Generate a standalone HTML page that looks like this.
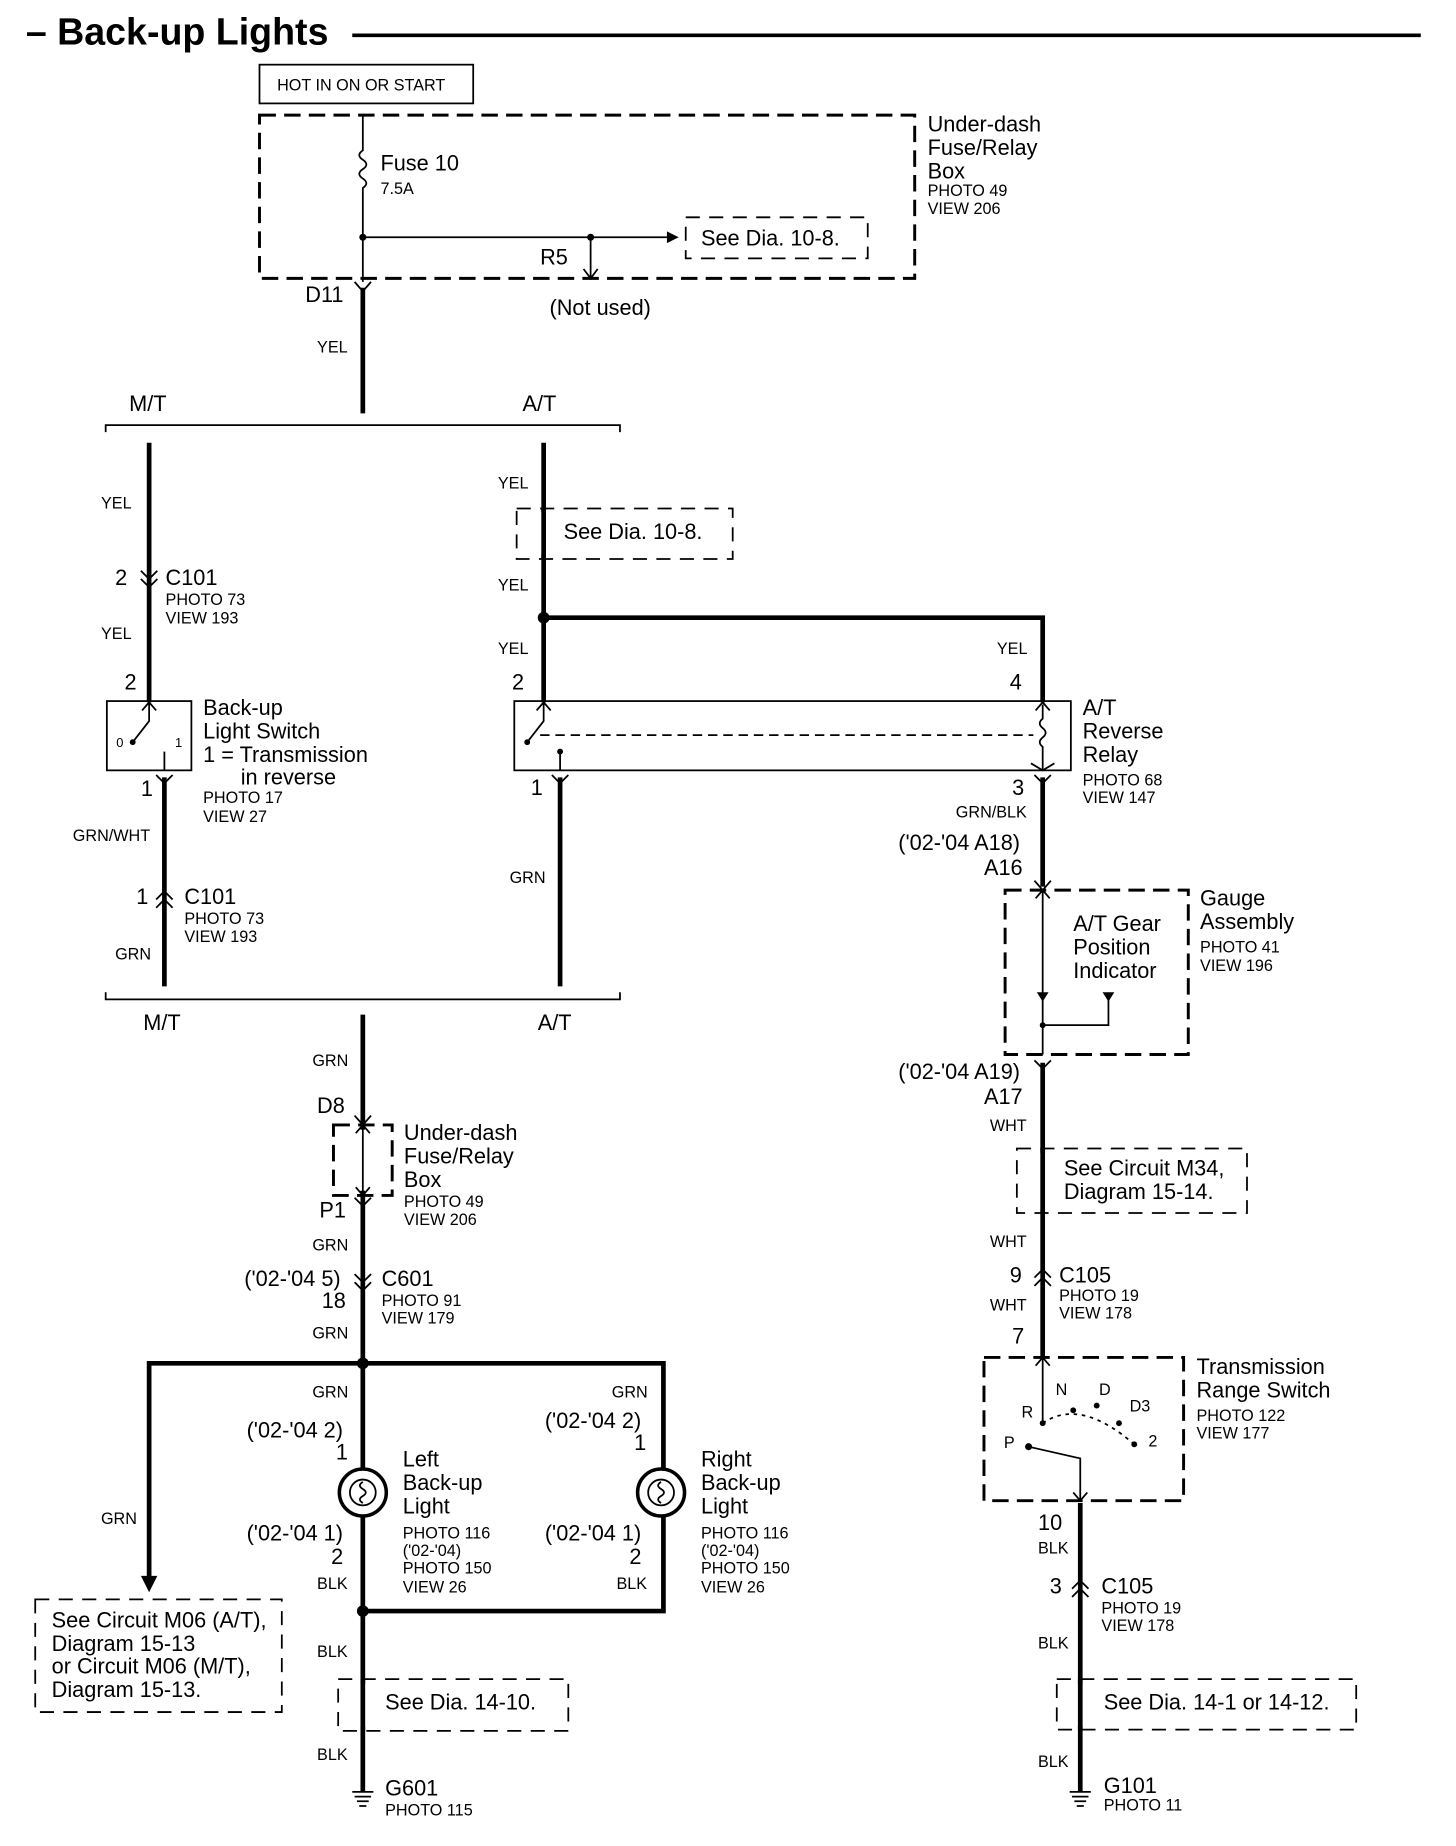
<!DOCTYPE html>
<html><head><meta charset="utf-8"><style>
html,body{margin:0;padding:0;background:#fff}
svg{display:block}
text{font-family:"Liberation Sans",sans-serif;fill:#000}
.l{font-size:18.5px}.s{font-size:13.8px}
.w{stroke:#000;stroke-width:4;fill:none}
.t{stroke:#000;stroke-width:1.5;fill:none}
.d{stroke:#000;stroke-width:2.5;fill:none;stroke-dasharray:14 7}
.dt{stroke:#000;stroke-width:1.5;fill:none;stroke-dasharray:12 8}
</style></head><body>
<svg width="1456" height="1846" viewBox="0 0 1240 1572" xmlns="http://www.w3.org/2000/svg">
<text x="22" y="38" style="font-size:32px;font-weight:bold">– Back-up Lights</text>
<line x1="300" y1="30" x2="1210" y2="30" stroke="#000" stroke-width="3"/>
<rect x="221" y="55" width="182" height="33" class="t" stroke-width="2"/>
<text x="236" y="77" class="s">HOT IN ON OR START</text>
<rect x="221" y="98" width="558" height="139" class="d"/>
<text x="790" y="112" class="l">Under-dash</text><text x="790" y="132" class="l">Fuse/Relay</text><text x="790" y="152" class="l">Box</text>
<text x="790" y="167" class="s">PHOTO 49</text><text x="790" y="182" class="s">VIEW 206</text>
<path d="M309 98 V128 q-6 4 0 8 q6 4 0 8 q-6 4 0 8 q6 4 0 8 V240" class="t"/>
<text x="324" y="145" class="l">Fuse 10</text><text x="324" y="165" class="s">7.5A</text>
<path d="M309 202 H568" class="t"/><path d="M568 197 L578 202 L568 207Z"/>
<circle cx="309" cy="202" r="3"/><circle cx="503" cy="202" r="3"/>
<path d="M503 202 V237 M497 229 L503 237 L509 229" class="t"/>
<text x="460" y="225" class="l">R5</text>
<path d="M584 185 H739 V220 H584Z" class="dt"/>
<text x="597" y="209" class="l">See Dia. 10-8.</text>
<text x="260" y="257" class="l">D11</text>
<path d="M302 240 L309 248 L316 240" class="t" stroke-width="2.5"/>
<line x1="309" y1="245" x2="309" y2="352" class="w"/>
<text x="270" y="300" class="s">YEL</text>
<text x="468" y="268" class="l">(Not used)</text>
<path d="M90 368 V362 H528 V368" class="t" stroke-width="2.5"/>
<text x="110" y="350" class="l">M/T</text><text x="445" y="350" class="l">A/T</text>
<line x1="127" y1="377" x2="127" y2="598" class="w"/>
<path d="M120 486 L127 493 L134 486 M120 493 L127 500 L134 493" class="t" stroke-width="2.5"/>
<text x="86" y="433" class="s">YEL</text>
<text x="98" y="498" class="l">2</text><text x="141" y="498" class="l">C101</text>
<text x="141" y="515" class="s">PHOTO 73</text><text x="141" y="531" class="s">VIEW 193</text>
<text x="86" y="544" class="s">YEL</text>
<text x="106" y="587" class="l">2</text>
<rect x="91" y="597" width="72" height="59" class="t" stroke-width="2.5"/>
<path d="M127 597 V614 L113 632 M140 640 V656 M121 605 L127 598 L133 605" class="t"/>
<circle cx="113" cy="632" r="2.5"/><text x="99" y="636" class="s" style="font-size:11px">0</text><text x="149" y="636" class="s" style="font-size:11px">1</text>
<text x="173" y="609" class="l">Back-up</text><text x="173" y="629" class="l">Light Switch</text>
<text x="173" y="649" class="l">1 = Transmission</text><text x="205" y="668" class="l">in reverse</text>
<text x="173" y="684" class="s">PHOTO 17</text><text x="173" y="700" class="s">VIEW 27</text>
<text x="120" y="678" class="l">1</text>
<path d="M133 660 L140 667 L147 660" class="t" stroke-width="2.5"/>
<line x1="140" y1="662" x2="140" y2="840" class="w"/>
<text x="62" y="716" class="s">GRN/WHT</text>
<path d="M133 766 L140 759 L147 766 M133 773 L140 766 L147 773" class="t" stroke-width="2.5"/>
<text x="116" y="770" class="l">1</text><text x="157" y="770" class="l">C101</text>
<text x="157" y="787" class="s">PHOTO 73</text><text x="157" y="802" class="s">VIEW 193</text>
<text x="98" y="817" class="s">GRN</text>
<line x1="463" y1="377" x2="463" y2="598" class="w"/>
<text x="424" y="416" class="s">YEL</text>
<path d="M440 433 H624 V476 H440Z" class="dt"/>
<rect x="452" y="436" width="22" height="36" fill="#fff"/>
<line x1="463" y1="433" x2="463" y2="476" class="w"/>
<text x="480" y="459" class="l">See Dia. 10-8.</text>
<text x="424" y="503" class="s">YEL</text>
<circle cx="463" cy="526" r="5"/>
<path d="M463 526 H888 V598" class="w"/>
<text x="424" y="557" class="s">YEL</text><text x="849" y="557" class="s">YEL</text>
<text x="436" y="587" class="l">2</text><text x="860" y="587" class="l">4</text>
<rect x="438" y="597" width="474" height="59" class="t" stroke-width="2.5"/>
<path d="M463 598 V614 L449 632 M477 640 V656 M457 605 L463 598 L469 605 M882 605 L888 598 L894 605 M888 600 V612 q-5 4 0 8 q5 4 0 8 q-5 4 0 8 V656 M878 650 L888 656 L898 650" class="t"/>
<circle cx="449" cy="632" r="2.5"/><circle cx="477" cy="640" r="2.5"/>
<line x1="460" y1="626" x2="880" y2="626" class="t" stroke-dasharray="8 5"/>
<text x="922" y="609" class="l">A/T</text><text x="922" y="629" class="l">Reverse</text><text x="922" y="649" class="l">Relay</text>
<text x="922" y="669" class="s">PHOTO 68</text><text x="922" y="684" class="s">VIEW 147</text>
<text x="452" y="677" class="l">1</text>
<path d="M470 660 L477 667 L484 660" class="t" stroke-width="2.5"/>
<line x1="477" y1="662" x2="477" y2="840" class="w"/>
<text x="434" y="752" class="s">GRN</text>
<text x="862" y="677" class="l">3</text>
<path d="M881 660 L888 667 L895 660" class="t" stroke-width="2.5"/>
<line x1="888" y1="662" x2="888" y2="755" class="w"/>
<text x="814" y="696" class="s">GRN/BLK</text>
<text x="765" y="724" class="l">('02-'04 A18)</text><text x="838" y="745" class="l">A16</text>
<path d="M881 750 L888 758 L895 750" class="t" stroke-width="2.5"/>
<rect x="856" y="758" width="156" height="140" class="d"/>
<path d="M888 758 V898 M888 873 H944 V850 M882 765 L888 758 L894 765" class="t"/>
<path d="M883 845 L888 853 L893 845Z M939 845 L944 853 L949 845Z"/><circle cx="888" cy="873" r="2.5"/>
<text x="914" y="793" class="l">A/T Gear</text><text x="914" y="813" class="l">Position</text><text x="914" y="833" class="l">Indicator</text>
<text x="1022" y="771" class="l">Gauge</text><text x="1022" y="791" class="l">Assembly</text>
<text x="1022" y="811" class="s">PHOTO 41</text><text x="1022" y="827" class="s">VIEW 196</text>
<path d="M881 903 L888 910 L895 903" class="t" stroke-width="2.5"/>
<line x1="888" y1="905" x2="888" y2="1156" class="w"/>
<text x="765" y="919" class="l">('02-'04 A19)</text><text x="838" y="940" class="l">A17</text>
<text x="843" y="963" class="s">WHT</text>
<path d="M866 978 H1062 V1033 H866Z" class="dt"/>
<rect x="878" y="982" width="20" height="48" fill="#fff"/>
<line x1="888" y1="978" x2="888" y2="1033" class="w"/>
<text x="906" y="1001" class="l">See Circuit M34,</text><text x="906" y="1021" class="l">Diagram 15-14.</text>
<text x="843" y="1062" class="s">WHT</text>
<path d="M881 1088 L888 1081 L895 1088 M881 1095 L888 1088 L895 1095" class="t" stroke-width="2.5"/>
<text x="860" y="1092" class="l">9</text><text x="902" y="1092" class="l">C105</text>
<text x="902" y="1108" class="s">PHOTO 19</text><text x="902" y="1123" class="s">VIEW 178</text>
<text x="843" y="1116" class="s">WHT</text>
<text x="862" y="1144" class="l">7</text>
<rect x="838" y="1156" width="170" height="122" class="d"/>
<path d="M888 1156 V1210 M882 1163 L888 1156 L894 1163 M876 1232 L920 1242 V1278 M914 1271 L920 1278 L926 1271" class="t"/>
<circle cx="876" cy="1232" r="3"/><circle cx="888" cy="1212" r="2.5"/><circle cx="914" cy="1201" r="2.5"/><circle cx="934" cy="1197" r="2.5"/><circle cx="953" cy="1212" r="2.5"/><circle cx="966" cy="1230" r="2.5"/>
<path d="M888 1212 Q920 1190 966 1230" class="t" stroke-dasharray="3 4"/>
<text x="870" y="1207" class="s">R</text><text x="899" y="1188" class="s">N</text><text x="936" y="1188" class="s">D</text><text x="962" y="1202" class="s">D3</text><text x="978" y="1232" class="s">2</text><text x="855" y="1233" class="s">P</text>
<text x="1019" y="1170" class="l">Transmission</text><text x="1019" y="1190" class="l">Range Switch</text>
<text x="1019" y="1210" class="s">PHOTO 122</text><text x="1019" y="1225" class="s">VIEW 177</text>
<line x1="920" y1="1280" x2="920" y2="1526" class="w"/>
<text x="884" y="1303" class="l">10</text><text x="884" y="1323" class="s">BLK</text>
<path d="M913 1353 L920 1346 L927 1353 M913 1360 L920 1353 L927 1360" class="t" stroke-width="2.5"/>
<text x="894" y="1357" class="l">3</text><text x="938" y="1357" class="l">C105</text>
<text x="938" y="1374" class="s">PHOTO 19</text><text x="938" y="1389" class="s">VIEW 178</text>
<text x="884" y="1404" class="s">BLK</text>
<path d="M900 1430 H1155 V1473 H900Z" class="dt"/>
<rect x="910" y="1434" width="20" height="36" fill="#fff"/>
<line x1="920" y1="1430" x2="920" y2="1473" class="w"/>
<text x="940" y="1456" class="l">See Dia. 14-1 or 14-12.</text>
<text x="884" y="1505" class="s">BLK</text>
<path d="M911 1526 H929 M913 1530 H927 M915 1534 H925 M917 1538 H923" class="t" stroke-width="2.5"/>
<text x="940" y="1527" class="l">G101</text><text x="940" y="1542" class="s">PHOTO 11</text>
<path d="M90 845 V851 H528 V845" class="t" stroke-width="2.5"/>
<text x="122" y="877" class="l">M/T</text><text x="458" y="877" class="l">A/T</text>
<line x1="309" y1="864" x2="309" y2="1526" class="w"/>
<text x="266" y="908" class="s">GRN</text>
<text x="270" y="948" class="l">D8</text>
<path d="M302 950 L309 958 L316 950" class="t" stroke-width="2.5"/>
<rect x="284" y="958" width="50" height="60" class="d"/>
<rect x="302" y="962" width="14" height="52" fill="#fff"/>
<path d="M309 958 V1018 M303 965 L309 958 L315 965 M303 1011 L309 1018 L315 1011" class="t"/>
<path d="M302 1020 L309 1027 L316 1020" class="t" stroke-width="2.5"/>
<text x="344" y="971" class="l">Under-dash</text><text x="344" y="991" class="l">Fuse/Relay</text><text x="344" y="1011" class="l">Box</text>
<text x="344" y="1028" class="s">PHOTO 49</text><text x="344" y="1043" class="s">VIEW 206</text>
<text x="272" y="1037" class="l">P1</text>
<text x="266" y="1065" class="s">GRN</text>
<path d="M302 1085 L309 1092 L316 1085 M302 1092 L309 1099 L316 1092" class="t" stroke-width="2.5"/>
<text x="208" y="1095" class="l">('02-'04 5)</text><text x="274" y="1114" class="l">18</text>
<text x="325" y="1095" class="l">C601</text><text x="325" y="1112" class="s">PHOTO 91</text><text x="325" y="1127" class="s">VIEW 179</text>
<text x="266" y="1140" class="s">GRN</text>
<circle cx="309" cy="1161" r="5"/>
<path d="M127 1345 V1161 H565 V1372 H309" class="w"/>
<path d="M120 1342 L127 1356 L134 1342Z"/>
<circle cx="309" cy="1372" r="5"/>
<text x="86" y="1298" class="s">GRN</text>
<text x="266" y="1190" class="s">GRN</text><text x="521" y="1190" class="s">GRN</text>
<text x="210" y="1224" class="l">('02-'04 2)</text><text x="286" y="1243" class="l">1</text>
<text x="464" y="1216" class="l">('02-'04 2)</text><text x="540" y="1235" class="l">1</text>
<circle cx="309" cy="1271" r="20" fill="#fff" stroke="#000" stroke-width="3"/><circle cx="309" cy="1271" r="11" class="t"/>
<path d="M309 1262 q-5 3 0 6 q5 3 0 6 q-5 3 0 6" class="t"/>
<circle cx="563" cy="1271" r="20" fill="#fff" stroke="#000" stroke-width="3"/><circle cx="563" cy="1271" r="11" class="t"/>
<path d="M563 1262 q-5 3 0 6 q5 3 0 6 q-5 3 0 6" class="t"/>
<text x="343" y="1249" class="l">Left</text><text x="343" y="1269" class="l">Back-up</text><text x="343" y="1289" class="l">Light</text>
<text x="343" y="1310" class="s">PHOTO 116</text><text x="343" y="1325" class="s">('02-'04)</text><text x="343" y="1340" class="s">PHOTO 150</text><text x="343" y="1356" class="s">VIEW 26</text>
<text x="597" y="1249" class="l">Right</text><text x="597" y="1269" class="l">Back-up</text><text x="597" y="1289" class="l">Light</text>
<text x="597" y="1310" class="s">PHOTO 116</text><text x="597" y="1325" class="s">('02-'04)</text><text x="597" y="1340" class="s">PHOTO 150</text><text x="597" y="1356" class="s">VIEW 26</text>
<text x="210" y="1312" class="l">('02-'04 1)</text><text x="282" y="1332" class="l">2</text>
<text x="464" y="1312" class="l">('02-'04 1)</text><text x="536" y="1332" class="l">2</text>
<text x="270" y="1353" class="s">BLK</text><text x="525" y="1353" class="s">BLK</text>
<path d="M30 1362 H240 V1458 H30Z" class="dt"/>
<text x="44" y="1386" class="l">See Circuit M06 (A/T),</text><text x="44" y="1406" class="l">Diagram 15-13</text>
<text x="44" y="1425" class="l">or Circuit M06 (M/T),</text><text x="44" y="1445" class="l">Diagram 15-13.</text>
<text x="270" y="1411" class="s">BLK</text>
<path d="M288 1430 H484 V1474 H288Z" class="dt"/>
<rect x="299" y="1434" width="20" height="36" fill="#fff"/>
<line x1="309" y1="1430" x2="309" y2="1474" class="w"/>
<text x="328" y="1456" class="l">See Dia. 14-10.</text>
<text x="270" y="1499" class="s">BLK</text>
<path d="M300 1526 H318 M302 1530 H316 M304 1534 H314 M306 1538 H312" class="t" stroke-width="2.5"/>
<text x="328" y="1529" class="l">G601</text><text x="328" y="1546" class="s">PHOTO 115</text>
</svg>
</body></html>
